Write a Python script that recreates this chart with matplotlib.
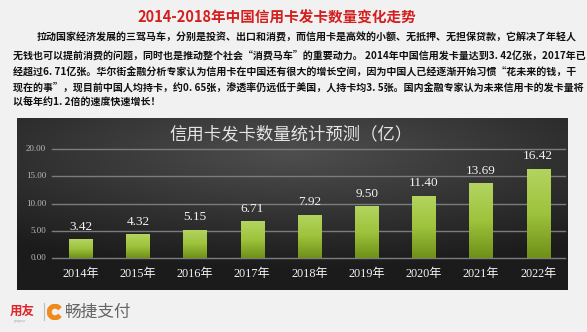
import numpy as np
import matplotlib
matplotlib.use('Agg')
import matplotlib.pyplot as plt
from matplotlib.patches import Wedge
from matplotlib.colors import LinearSegmentedColormap

plt.rcParams['font.family'] = ['Noto Sans CJK SC', 'DejaVu Sans']

# data
years = ['2014年', '2015年', '2016年', '2017年', '2018年', '2019年', '2020年', '2021年', '2022年']
cards = [3.42, 4.32, 5.15, 6.71, 7.92, 9.50, 11.40, 13.69, 16.42]
yticks = [0, 5, 10, 15, 20]

title_top = '2014-2018年中国信用卡发卡数量变化走势'
para = [
    '拉动国家经济发展的三驾马车，分别是投资、出口和消费，而信用卡是高效的小额、无抵押、无担保贷款，它解决了年轻人',
    '无钱也可以提前消费的问题，同时也是推动整个社会“消费马车”的重要动力。 2014年中国信用发卡量达到3. 42亿张，2017年已',
    '经超过6. 71亿张。华尔街金融分析专家认为信用卡在中国还有很大的增长空间，因为中国人已经逐渐开始习惯“花未来的钱，干',
    '现在的事”，现目前中国人均持卡，约0. 65张，渗透率仍远低于美国，人持卡均3. 5张。国内金融专家认为未来信用卡的发卡量将',
    '以每年约1. 2倍的速度快速增长！',
]
chart_title = '信用卡发卡数量统计预测（亿）'

W, H = 587, 332
fig = plt.figure(figsize=(W / 100, H / 100), dpi=100)
fig.patch.set_facecolor('#f1f1f1')

# header text
fig.text(277 / W, 1 - 18 / H, title_top, color='#d41f1f', fontsize=10.5, fontweight='bold',
         ha='center', va='center')
line_y = [38, 55, 71, 87, 103]
for i, s in enumerate(para):
    x0 = 37 if i == 0 else 13
    fig.text(x0 / W, 1 - line_y[i] / H, s, color='#111111', fontsize=7.2,
             fontweight='bold', ha='left', va='center')

# chart panel
ax = fig.add_axes([17 / W, 1 - 290 / H, (568 - 17) / W, (290 - 118) / H])
xl = (-1.114, 8.52)
yl = (-5.87, 25.69)
ax.set_xlim(xl)
ax.set_ylim(yl)

# dark radial background
gx, gy = np.meshgrid(np.linspace(-1, 1, 300), np.linspace(-1, 1, 120))
r = np.sqrt((gx * 0.9) ** 2 + ((gy - 0.6) * 1.1) ** 2)
bg = np.clip(1 - r / 1.5, 0, 1)
cmap_bg = LinearSegmentedColormap.from_list('bg', ['#1b1b1b', '#4e4e4e'])
ax.imshow(bg, cmap=cmap_bg, extent=(*xl, *yl), aspect='auto', origin='lower', zorder=0)

for v in yticks:
    ax.plot([-0.5, 8.46], [v, v], color='#7c7c7c', lw=1.0, zorder=1)
    ax.text(-0.607, v, '%.2f' % v, color='#b8b8b8', fontsize=6.5, ha='right', va='center',
            family=['Liberation Serif', 'DejaVu Serif'])

x = np.arange(len(years))
bars = ax.bar(x, cards, width=0.41, color='#97bb35', zorder=2)
cmap_bar = LinearSegmentedColormap.from_list('bar', ['#6f9019', '#9ec33c', '#b3d460'])
grad = np.linspace(0, 1, 100).reshape(-1, 1)
for b in bars:
    bx, by, bw, bh = b.get_x(), b.get_y(), b.get_width(), b.get_height()
    im = ax.imshow(grad, cmap=cmap_bar, extent=(bx, bx + bw, by, by + bh),
                   aspect='auto', origin='lower', zorder=3)
    im.set_clip_path(b)

for xi, v in zip(x, cards):
    ax.text(xi, v + 1.2, '%.2f' % v, color='#f2f2f2', fontsize=9.5, ha='center',
            va='bottom', family=['Liberation Serif', 'DejaVu Serif'])
for xi, s in zip(x, years):
    ax.text(xi, -2.94, s, color='#f2f2f2', fontsize=8.8, ha='center', va='center',
            family=['Liberation Serif', 'Noto Sans CJK SC'])

ax.text(0.497, 0.905, chart_title, transform=ax.transAxes, color='#e4e4e4',
        fontsize=12.5, ha='center', va='center')
ax.axis('off')

# footer logos
fig.text(10 / W, 1 - 311 / H, '用友', color='#e0262b', fontsize=9, fontweight='bold',
         ha='left', va='center')
fig.text(14 / W, 1 - 321 / H, 'yonyou', color='#999999', fontsize=2.5, ha='left', va='center')
fig.add_artist(plt.Line2D([44 / W, 44 / W], [1 - 303 / H, 1 - 320 / H], color='#bbbbbb', lw=0.8))
lax = fig.add_axes([47 / W, 1 - 320 / H, 16 / W, 16 / H])
lax.set_xlim(-1, 1)
lax.set_ylim(-1, 1)
lax.add_patch(Wedge((0, 0), 0.95, 40, 320, width=0.45, color='#f08a1c'))
lax.axis('off')
fig.text(65 / W, 1 - 312 / H, '畅捷支付', color='#666666', fontsize=12, ha='left', va='center')

fig.savefig('out.png', dpi=100)
